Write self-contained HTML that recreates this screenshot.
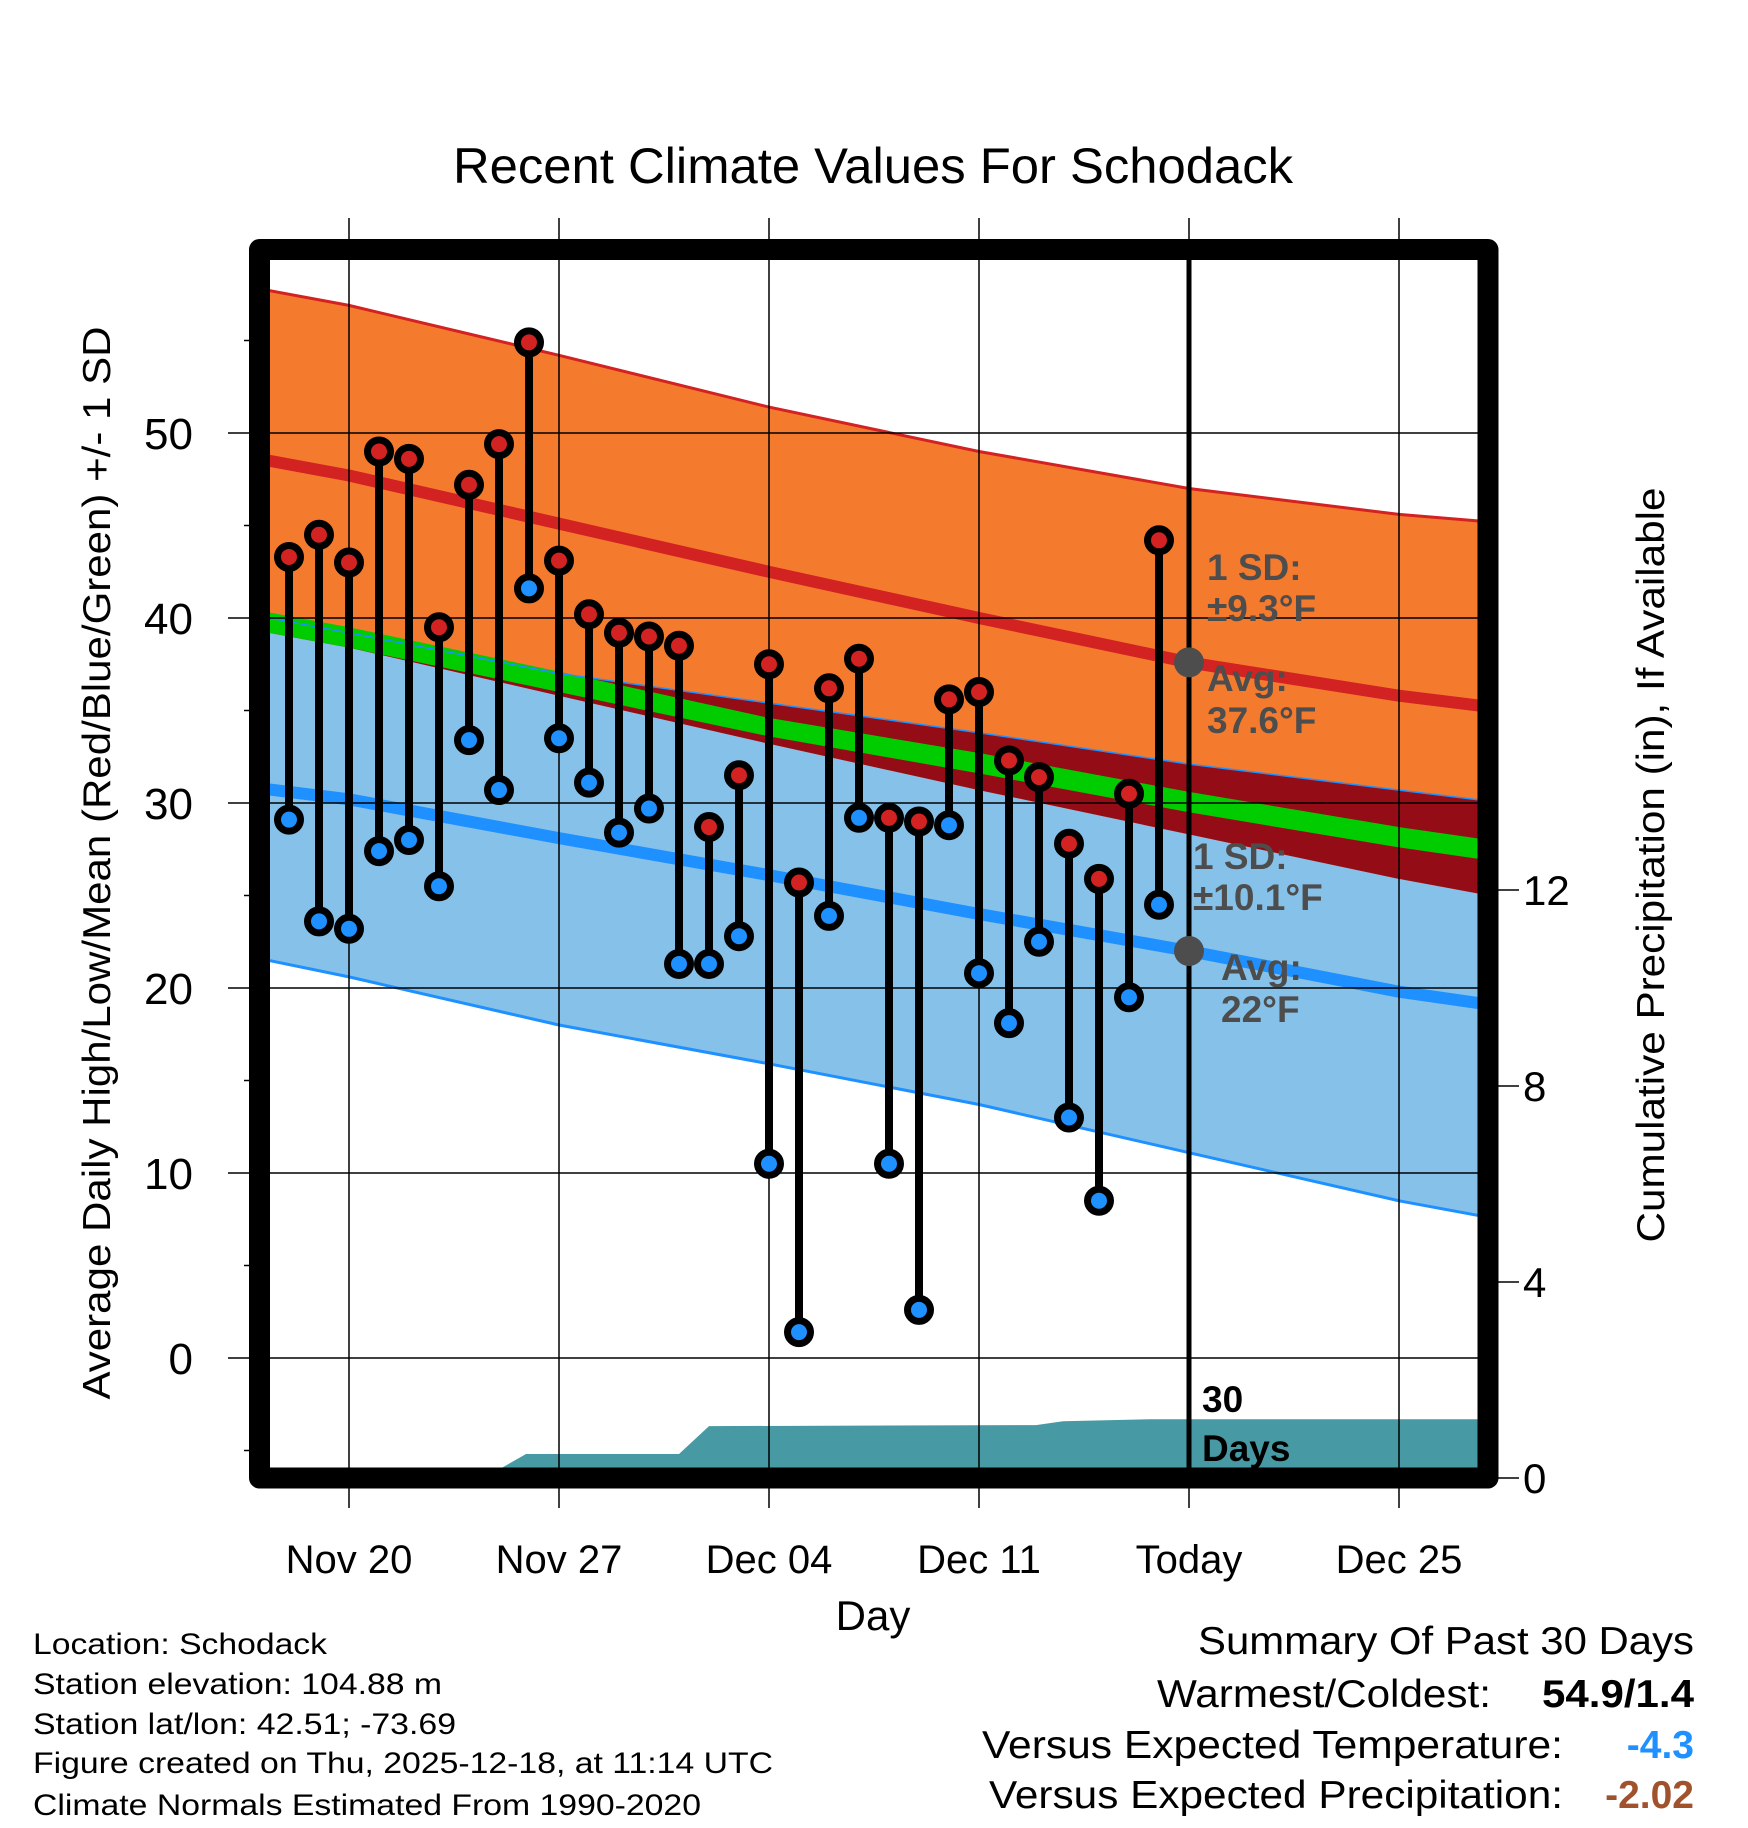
<!DOCTYPE html>
<html><head><meta charset="utf-8"><style>
html,body{margin:0;padding:0;background:#fff}
svg{display:block}
text{font-family:"Liberation Sans",Arial,sans-serif}
</style></head><body>
<svg id="chart" width="1748" height="1828" viewBox="0 0 1748 1828" xmlns="http://www.w3.org/2000/svg">
<defs><clipPath id="plotclip"><rect x="260" y="250" width="1228" height="1228"/></clipPath></defs>
<g id="bands" clip-path="url(#plotclip)"></g>
<g id="grid"></g>
<g id="marks"></g>
<rect x="259.5" y="249.5" width="1228.5" height="1228.5" fill="none" stroke="#000" stroke-width="21" stroke-linejoin="round"/>

<text x="873" y="183" font-size="50" text-anchor="middle" textLength="840" lengthAdjust="spacingAndGlyphs">Recent Climate Values For Schodack</text>
<text transform="translate(110,863) rotate(-90)" font-size="39" text-anchor="middle" textLength="1073" lengthAdjust="spacingAndGlyphs">Average Daily High/Low/Mean (Red/Blue/Green) +/- 1 SD</text>
<text transform="translate(1664,865) rotate(-90)" font-size="39" text-anchor="middle" textLength="755" lengthAdjust="spacingAndGlyphs">Cumulative Precipitation (in), If Available</text>
<text x="873" y="1630" font-size="42" text-anchor="middle">Day</text>

<g fill="#4d4d4d" font-weight="bold" font-size="37">
<text x="1207" y="580">1 SD:</text>
<text x="1207" y="621">±9.3°F</text>
<text x="1207" y="691">Avg:</text>
<text x="1207" y="733">37.6°F</text>
<text x="1193" y="869">1 SD:</text>
<text x="1193" y="910">±10.1°F</text>
<text x="1221" y="980">Avg:</text>
<text x="1221" y="1022">22°F</text>
</g>
<text x="1202" y="1412" font-size="37" font-weight="bold">30</text>
<text x="1202" y="1461" font-size="37" font-weight="bold">Days</text>

<g font-size="30">
<text x="33" y="1654" textLength="294" lengthAdjust="spacingAndGlyphs">Location: Schodack</text>
<text x="33" y="1694" textLength="409" lengthAdjust="spacingAndGlyphs">Station elevation: 104.88 m</text>
<text x="33" y="1734" textLength="423" lengthAdjust="spacingAndGlyphs">Station lat/lon: 42.51; -73.69</text>
<text x="33" y="1773" textLength="740" lengthAdjust="spacingAndGlyphs">Figure created on Thu, 2025-12-18, at 11:14 UTC</text>
<text x="33" y="1815" textLength="668" lengthAdjust="spacingAndGlyphs">Climate Normals Estimated From 1990-2020</text>
</g>
<g font-size="39">
<text x="1694" y="1654" text-anchor="end" textLength="496" lengthAdjust="spacingAndGlyphs">Summary Of Past 30 Days</text>
<text x="1491" y="1707" text-anchor="end" textLength="334" lengthAdjust="spacingAndGlyphs">Warmest/Coldest:</text>
<text x="1694" y="1707" text-anchor="end" font-weight="bold" textLength="152" lengthAdjust="spacingAndGlyphs">54.9/1.4</text>
<text x="1563" y="1758" text-anchor="end" textLength="581" lengthAdjust="spacingAndGlyphs">Versus Expected Temperature:</text>
<text x="1694" y="1758" text-anchor="end" font-weight="bold" fill="#1e90ff">-4.3</text>
<text x="1563" y="1808" text-anchor="end" textLength="574" lengthAdjust="spacingAndGlyphs">Versus Expected Precipitation:</text>
<text x="1694" y="1808" text-anchor="end" font-weight="bold" fill="#a0522d">-2.02</text>
</g>
</svg>
<script>
// days relative to Nov 20
const normDays = [-3, 0, 7, 14, 21, 28, 35, 38];
const hiUp   = [57.8, 56.9, 54.2, 51.4, 49.0, 47.0, 45.6, 45.2];
const hiMean = [48.6, 47.7, 45.1, 42.5, 40.0, 37.6, 35.8, 35.2];
const hiLow  = [39.3, 38.4, 35.8, 33.2, 30.7, 28.3, 25.9, 25.0];
const loUp   = [40.1, 39.2, 37.0, 35.4, 33.8, 32.1, 30.7, 30.1];
const loMean = [30.8, 30.2, 28.1, 26.1, 24.0, 22.0, 19.8, 19.1];
const loLow  = [21.6, 20.6, 18.0, 15.9, 13.7, 11.1, 8.5, 7.6];
const meanTop= [40.4, 39.5, 37.1, 34.6, 32.7, 30.6, 28.7, 28.0];
const meanBot= [39.3, 38.4, 36.0, 33.6, 31.6, 29.5, 27.6, 26.9];
const obsStartDay = -2;
const highs = [43.3,44.5,43.0,49.0,48.6,39.5,47.2,49.4,54.9,43.1,40.2,39.2,39.0,38.5,28.7,31.5,37.5,25.7,36.2,37.8,29.2,29.0,35.6,36.0,32.3,31.4,27.8,25.9,30.5,44.2];
const lows  = [29.1,23.6,23.2,27.4,28.0,25.5,33.4,30.7,41.6,33.5,31.1,28.4,29.7,21.3,21.3,22.8,10.5,1.4,23.9,29.2,10.5,2.6,28.8,20.8,18.1,22.5,13.0,8.5,19.5,24.5];
const precipDays = [-3, 4.5, 5.9, 11.0, 12.0, 22.9, 23.8, 26.7, 38];
const precipCum  = [0, 0, 0.49, 0.49, 1.06, 1.08, 1.16, 1.2, 1.2];
const xTickDays = [0, 7, 14, 21, 28, 35];
const xTickLabels = ["Nov 20","Nov 27","Dec 04","Dec 11","Today","Dec 25"];
const yTicks = [0, 10, 20, 30, 40, 50];
const yMinor = [-5, 5, 15, 25, 35, 45, 55];
const pTicks = [0, 4, 8, 12];
const todayDay = 28;
const todayHighAvg = 37.6, todayLowAvg = 22.0;

const NS = "http://www.w3.org/2000/svg";
const xs = d => 349 + 30 * d;
const ys = v => 1358 - 18.5 * v;
const yp = p => 1478 - 49 * p;
function mk(tag, attrs, parent) {
  const e = document.createElementNS(NS, tag);
  for (const k in attrs) e.setAttribute(k, attrs[k]);
  parent.appendChild(e); return e;
}
function pts(days, vals, f) { return days.map((d, i) => xs(d).toFixed(1) + "," + f(vals[i]).toFixed(1)); }
function band(top, bot) {
  return pts(normDays, top, ys).concat(pts(normDays, bot, ys).reverse()).join(" ");
}
const bands = document.getElementById("bands");
let e;
e = mk("polygon", {points: band(loUp, loLow), fill: "#85c1e9"}, bands);


e = mk("polygon", {points: band(hiUp, hiLow), fill: "#f47a2e"}, bands);


e = mk("polygon", {points: band(loUp, hiLow), fill: "#940d16"}, bands);


e = mk("polygon", {points: band(meanTop, meanBot), fill: "#00cc00"}, bands);


e = mk("polyline", {points: pts(normDays, hiUp, ys).join(" "), fill: "none", stroke: "#d22222", "stroke-width": 3}, bands);


e = mk("polyline", {points: pts(normDays, loLow, ys).join(" "), fill: "none", stroke: "#1e90ff", "stroke-width": 3}, bands);


e = mk("polyline", {points: pts(normDays, loUp, ys).join(" "), fill: "none", stroke: "#1e90ff", "stroke-width": 1.5}, bands);


e = mk("polyline", {points: pts(normDays, hiMean, ys).join(" "), fill: "none", stroke: "#d22222", "stroke-width": 12, "stroke-linejoin": "round"}, bands);


e = mk("polyline", {points: pts(normDays, loMean, ys).join(" "), fill: "none", stroke: "#1e90ff", "stroke-width": 12, "stroke-linejoin": "round"}, bands);


const pp = pts(precipDays, precipCum, yp);
pp.push(xs(precipDays[precipDays.length-1]) + "," + yp(0));
pp.push(xs(precipDays[0]) + "," + yp(0));
e = mk("polygon", {points: pp.join(" "), fill: "#479aa3"}, bands);



const grid = document.getElementById("grid");
xTickDays.forEach((d, i) => {
  let g = mk("line", {x1: xs(d), x2: xs(d), y1: 218, y2: 1508, stroke: "#000", "stroke-width": 1.5}, grid);
  
  
  let t = mk("text", {x: xs(d), y: 1573, "font-size": 40, "text-anchor": "middle"}, grid);
  t.textContent = xTickLabels[i];
  
  
});
yTicks.forEach(v => {
  let g = mk("line", {x1: 228, x2: 1488, y1: ys(v), y2: ys(v), stroke: "#000", "stroke-width": 1.5}, grid);
  
  
  let t = mk("text", {x: 193, y: ys(v) + 16, "font-size": 44, "text-anchor": "end"}, grid);
  t.textContent = v;
  
  
});
yMinor.forEach(v => {
  let g = mk("line", {x1: 244, x2: 260, y1: ys(v), y2: ys(v), stroke: "#000", "stroke-width": 1.5}, grid);
  
  
});
pTicks.forEach(p => {
  let g = mk("line", {x1: 1488, x2: 1519, y1: yp(p), y2: yp(p), stroke: "#000", "stroke-width": 1.5}, grid);
  
  
  let t = mk("text", {x: 1523, y: yp(p) + 15, "font-size": 42}, grid);
  t.textContent = p;
  
  
});

const marks = document.getElementById("marks");
let tl = mk("line", {x1: xs(todayDay), x2: xs(todayDay), y1: 250, y2: 1478, stroke: "#000", "stroke-width": 5}, marks);


highs.forEach((h, i) => {
  const x = xs(obsStartDay + i);
  let s = mk("line", {x1: x, x2: x, y1: ys(h), y2: ys(lows[i]), stroke: "#000", "stroke-width": 8}, marks);
  
  
});
highs.forEach((h, i) => {
  const x = xs(obsStartDay + i);
  let c1 = mk("circle", {cx: x, cy: ys(h), r: 11.5, fill: "#d22222", stroke: "#000", "stroke-width": 7}, marks);
  
  
  let c2 = mk("circle", {cx: x, cy: ys(lows[i]), r: 11.5, fill: "#1e90ff", stroke: "#000", "stroke-width": 7}, marks);
  
  
});
let d1 = mk("circle", {cx: xs(todayDay), cy: ys(todayHighAvg), r: 15, fill: "#4d4d4d"}, marks);


let d2 = mk("circle", {cx: xs(todayDay), cy: ys(todayLowAvg), r: 15, fill: "#4d4d4d"}, marks);


</script>
</body></html>
